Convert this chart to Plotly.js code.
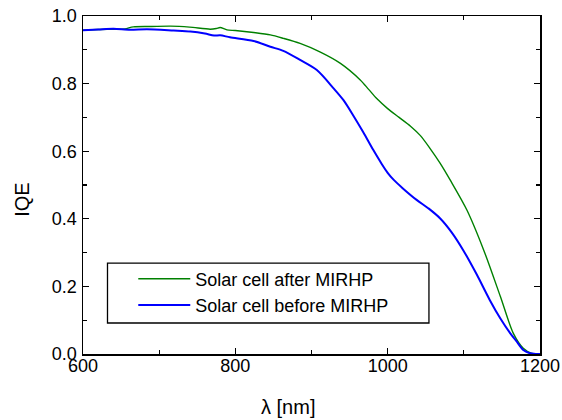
<!DOCTYPE html>
<html>
<head>
<meta charset="utf-8">
<script src="https://cdn.plot.ly/plotly-3.0.1.min.js"></script>
<style>html,body{margin:0;padding:0;background:#fff;}#chart{width:562px;height:420px;}</style>
</head>
<body>
<div id="chart"></div>
<script>
// Solar cell after MIRHP (green)
var afterWavelength = [600, 620, 640, 655, 666, 690, 715, 740, 767, 775, 780, 789, 800, 824, 846, 863, 885, 911, 938, 964, 975, 986, 1000, 1015, 1030, 1043, 1056, 1069, 1082, 1104, 1126, 1148, 1165, 1178, 1189, 1195, 1200];
var afterIQE = [0.958, 0.960, 0.961, 0.962, 0.968, 0.969, 0.970, 0.967, 0.961, 0.963, 0.966, 0.959, 0.957, 0.951, 0.944, 0.934, 0.919, 0.894, 0.860, 0.811, 0.783, 0.755, 0.726, 0.700, 0.674, 0.646, 0.607, 0.564, 0.515, 0.426, 0.308, 0.170, 0.061, 0.017, 0.002, 0.0, 0.0];

// Solar cell before MIRHP (blue)
var beforeWavelength = [600, 620, 640, 662, 684, 719, 741, 760, 772, 780, 793, 824, 846, 863, 885, 907, 929, 942, 955, 968, 981, 992, 1000, 1008, 1020, 1038, 1054, 1069, 1084, 1099, 1117, 1134, 1148, 1161, 1170, 1178, 1187, 1195, 1200];
var beforeIQE = [0.958, 0.960, 0.962, 0.959, 0.961, 0.957, 0.954, 0.948, 0.942, 0.943, 0.937, 0.926, 0.909, 0.897, 0.870, 0.840, 0.786, 0.751, 0.705, 0.656, 0.604, 0.563, 0.536, 0.515, 0.490, 0.456, 0.430, 0.401, 0.360, 0.308, 0.235, 0.160, 0.105, 0.061, 0.035, 0.012, 0.002, 0.0, 0.0];

var seriesNames = ["Solar cell after MIRHP", "Solar cell before MIRHP"];
var xTickValues = [600, 800, 1000, 1200];
var yTickValues = [0.0, 0.2, 0.4, 0.6, 0.8, 1.0];
var xTitle = "λ [nm]";
var yTitle = "IQE";

var font = "'Liberation Sans', Arial, sans-serif";

var traces = [
  {x: afterWavelength, y: afterIQE, name: seriesNames[0], type: "scatter", mode: "lines",
   line: {color: "#008000", width: 1.4, shape: "spline", smoothing: 0.8}},
  {x: beforeWavelength, y: beforeIQE, name: seriesNames[1], type: "scatter", mode: "lines",
   line: {color: "#0000ff", width: 2, shape: "spline", smoothing: 0.8}}
];

var axisCommon = {
  showgrid: false, zeroline: false, showline: true, linecolor: "#000", linewidth: 1.5,
  mirror: "allticks", ticks: "inside", ticklen: 6, tickwidth: 1.3, tickcolor: "#000",
  tickfont: {family: font, size: 18, color: "#000"},
  minor: {ticks: "inside", ticklen: 4, tickwidth: 1.3, tickcolor: "#000"}
};

var layout = {
  width: 562, height: 420,
  margin: {l: 82.5, r: 22, t: 16, b: 66},
  paper_bgcolor: "#fff", plot_bgcolor: "#fff",
  showlegend: true,
  xaxis: Object.assign({}, axisCommon, {
    range: [600, 1200], tickvals: xTickValues, ticktext: xTickValues.map(String),
    ticklabelstandoff: -5,
    minor: Object.assign({}, axisCommon.minor, {dtick: 100, tick0: 600})
  }),
  yaxis: Object.assign({}, axisCommon, {
    range: [0, 1], tickvals: yTickValues, ticktext: yTickValues.map(function(v){return v.toFixed(1);}),
    ticklabelstandoff: 1,
    minor: Object.assign({}, axisCommon.minor, {dtick: 0.1, tick0: 0})
  }),
  legend: {
    x: 0.11, y: 0.2766, xanchor: "left", yanchor: "top",
    bgcolor: "rgba(0,0,0,0)", borderwidth: 0, itemwidth: 52,
    font: {family: font, size: 18, color: "#000"}, tracegroupgap: 0
  },
  shapes: [
    {type: "rect", xref: "paper", yref: "paper", x0: 0.0536, x1: 0.757, y0: 0.0917, y1: 0.269,
     line: {color: "#000", width: 1.3}, fillcolor: "rgba(255,255,255,0)", layer: "below"}
  ],
  annotations: [
    {text: xTitle, xref: "paper", yref: "paper", x: 0.448, y: -0.156, showarrow: false,
     xanchor: "center", yanchor: "middle", font: {family: font, size: 20, color: "#000"}},
    {text: yTitle, xref: "paper", yref: "paper", x: -0.1338, y: 0.4556, showarrow: false, textangle: -90,
     xanchor: "center", yanchor: "middle", font: {family: font, size: 20, color: "#000"}}
  ]
};

Plotly.newPlot("chart", traces, layout, {displayModeBar: false, staticPlot: true});
</script>
</body>
</html>
